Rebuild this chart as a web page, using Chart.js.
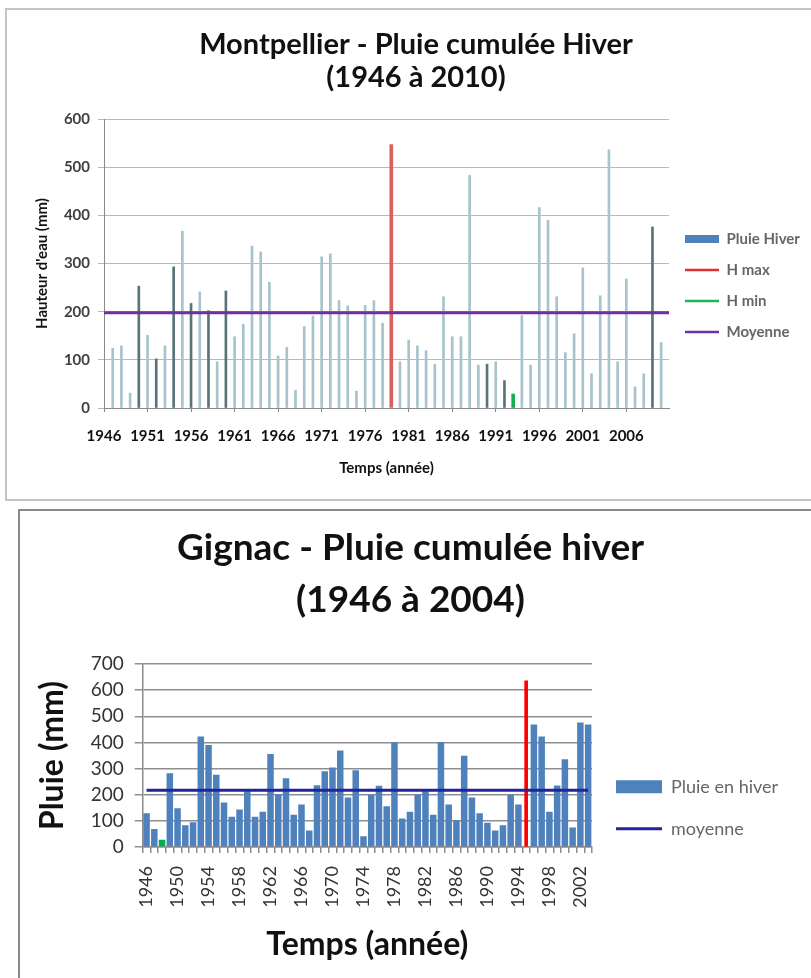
<!DOCTYPE html>
<html lang="fr">
<head>
<meta charset="utf-8">
<title>Pluie cumulée hiver - Montpellier et Gignac</title>
<script src="https://cdn.jsdelivr.net/npm/chart.js@4.4.1/dist/chart.umd.min.js"></script>
<style>
  html, body { margin: 0; padding: 0; background: #fff; width: 811px; height: 978px; overflow: hidden; position: relative; }
  .frame { position: absolute; background: #fff; border-right: none !important; }
  #frameTop { left: 5px; top: 8px; right: -40px; height: 489px; border: 2px solid #c4c4c4; }
  #frameBottom { left: 18px; top: 509px; right: -40px; bottom: -40px; border: 2px solid #8a8a8a; }
  .plot { position: absolute; }
  #wrapTop { left: 28px; top: 0; width: 776px; height: 505px; }
  #wrapBottom { left: 37px; top: 509px; width: 747px; height: 469px; }
</style>
</head>
<body>
<div class="frame" id="frameTop"></div>
<div class="plot" id="wrapTop"><canvas id="montpellierChart"></canvas></div>
<div class="frame" id="frameBottom"></div>
<div class="plot" id="wrapBottom"><canvas id="gignacChart"></canvas></div>

<script>
// Montpellier, winter rain (mm), 1946 has no bar
const mYears = [1946, 1947, 1948, 1949, 1950, 1951, 1952, 1953, 1954, 1955,
  1956, 1957, 1958, 1959, 1960, 1961, 1962, 1963, 1964, 1965,
  1966, 1967, 1968, 1969, 1970, 1971, 1972, 1973, 1974, 1975,
  1976, 1977, 1978, 1979, 1980, 1981, 1982, 1983, 1984, 1985,
  1986, 1987, 1988, 1989, 1990, 1991, 1992, 1993, 1994, 1995,
  1996, 1997, 1998, 1999, 2000, 2001, 2002, 2003, 2004, 2005,
  2006, 2007, 2008, 2009, 2010];
const mRain = [null, 124, 129, 31, 253, 151, 102, 129, 293, 367,
  217, 241, 202, 96, 243, 148, 174, 336, 324, 261,
  108, 126, 37, 169, 191, 314, 320, 223, 212, 35,
  213, 223, 176, 547, 96, 141, 129, 119, 91, 231,
  148, 148, 483, 89, 91, 96, 57, 29, 192, 89,
  416, 390, 231, 115, 154, 291, 71, 233, 536, 96,
  268, 44, 71, 376, 136];
const mMaxYear = 1979;
const mMinYear = 1993;
const mMean = 198;
const mTickYears = [1946, 1951, 1956, 1961, 1966, 1971, 1976, 1981, 1986, 1991, 1996, 2001, 2006];

// Gignac, winter rain (mm)
const gYears = [1946, 1947, 1948, 1949, 1950, 1951, 1952, 1953, 1954, 1955,
  1956, 1957, 1958, 1959, 1960, 1961, 1962, 1963, 1964, 1965,
  1966, 1967, 1968, 1969, 1970, 1971, 1972, 1973, 1974, 1975,
  1976, 1977, 1978, 1979, 1980, 1981, 1982, 1983, 1984, 1985,
  1986, 1987, 1988, 1989, 1990, 1991, 1992, 1993, 1994, 1995,
  1996, 1997, 1998, 1999, 2000, 2001, 2002, 2003];
const gRain = [129, 69, 28, 282, 148, 83, 95, 423, 390, 276,
  170, 116, 143, 213, 116, 135, 356, 202, 263, 123,
  163, 63, 236, 290, 304, 369, 189, 294, 41, 200,
  234, 156, 401, 109, 135, 200, 213, 123, 401, 163,
  102, 349, 189, 129, 93, 63, 83, 200, 163, 636,
  469, 423, 135, 235, 336, 75, 476, 469];
const gMaxYear = 1995;
const gMinYear = 1948;
const gMean = 217;
const gTickYears = [1946, 1950, 1954, 1958, 1962, 1966, 1970, 1974, 1978, 1982, 1986, 1990, 1994, 1998, 2002];

// some thin bars come out darker in the original export
const mDarkYears = [1950, 1952, 1954, 1956, 1958, 1960, 1990, 1992, 2009];

Chart.defaults.font.family = 'Lato, "DejaVu Sans", sans-serif';
Chart.defaults.animation = false;

const pick = (years, values, keep) => years.map((yr, i) => keep(yr) ? values[i] : null);

// ---------- Montpellier ----------
const mBars = mYears.map((yr, i) => ({ x: yr, y: (yr === mMaxYear || yr === mMinYear) ? null : mRain[i] }));
const mXMin = mYears[0];
const mXMax = mYears[mYears.length - 1] + 0.9;

new Chart(document.getElementById('montpellierChart'), {
  data: {
    datasets: [
      {
        type: 'line',
        label: 'Moyenne',
        data: [{ x: mXMin, y: mMean }, { x: mXMax, y: mMean }],
        borderColor: '#7030a0',
        borderWidth: 3,
        pointRadius: 0,
        order: 0,
      },
      {
        type: 'bar',
        label: 'Pluie Hiver',
        data: mBars,
        backgroundColor: (c) => (c.raw && mDarkYears.includes(c.raw.x)) ? '#587479' : '#a7c3cb',
        barThickness: 2,
        order: 1,
      },
      {
        type: 'bar',
        label: 'H max',
        data: [{ x: mMaxYear, y: mRain[mYears.indexOf(mMaxYear)] }],
        backgroundColor: '#d9605c',
        barThickness: 3,
        order: 1,
      },
      {
        type: 'bar',
        label: 'H min',
        data: [{ x: mMinYear, y: mRain[mYears.indexOf(mMinYear)] }],
        backgroundColor: '#16b04e',
        barThickness: 3,
        order: 1,
      },
    ],
  },
  options: {
    responsive: true,
    maintainAspectRatio: false,
    datasets: { bar: { grouped: false } },
    layout: { padding: 0 },
    plugins: {
      tooltip: { enabled: false },
      title: {
        display: true,
        text: ['Montpellier - Pluie cumulée Hiver', '(1946 à 2010)'],
        color: '#111',
        font: { size: 29, weight: 'bold', lineHeight: '33px' },
        padding: { top: 28.5, bottom: 24.5 },
      },
      legend: {
        position: 'right',
        align: 'start',
        maxWidth: 135,
        // empty title only used as a spacer to push the items down
        title: { display: true, text: '', font: { size: 10, lineHeight: 1 }, padding: { top: 205.5, bottom: 0 } },
        labels: {
          usePointStyle: true,
          pointStyleWidth: 34,
          boxHeight: 8,
          padding: 16,
          color: '#222',
          font: { size: 15, weight: 'bold' },
          generateLabels: () => [
            { text: 'Pluie Hiver', fillStyle: '#4f81bd', strokeStyle: '#4f81bd', lineWidth: 0, pointStyle: 'rect', datasetIndex: 1 },
            { text: 'H max', fillStyle: '#e0302e', strokeStyle: '#e0302e', lineWidth: 2.5, pointStyle: 'line', datasetIndex: 2 },
            { text: 'H min', fillStyle: '#1fb35a', strokeStyle: '#1fb35a', lineWidth: 2.5, pointStyle: 'line', datasetIndex: 3 },
            { text: 'Moyenne', fillStyle: '#7030a0', strokeStyle: '#7030a0', lineWidth: 2.5, pointStyle: 'line', datasetIndex: 0 },
          ],
        },
      },
    },
    scales: {
      x: {
        type: 'linear',
        offset: false,
        min: mXMin,
        max: mXMax,
        afterBuildTicks: (s) => { s.ticks = mTickYears.map((v) => ({ value: v })); },
        afterFit: (s) => { s.height = 97; },
        ticks: { callback: (v) => String(v), color: '#111', font: { size: 15, weight: 'bold' }, padding: 15, maxRotation: 0 },
        grid: { offset: false, drawOnChartArea: false, tickLength: 4, color: '#8a8a8a' },
        border: { color: '#8a8a8a' },
        title: { display: true, text: 'Temps (année)', color: '#111', font: { size: 15, weight: 'bold' }, padding: { top: 0, bottom: 28 } },
      },
      y: {
        min: 0,
        max: 600,
        afterFit: (s) => { s.width = 76; },
        ticks: { stepSize: 100, color: '#404040', font: { size: 15, weight: 'bold' }, padding: 8 },
        grid: { color: '#b9b9b9', tickLength: 6 },
        border: { color: '#8a8a8a' },
        title: { display: true, text: "Hauteur d'eau (mm)", color: '#111', font: { size: 15, weight: 'bold' }, padding: { top: 5, bottom: 0 } },
      },
    },
  },
});

// ---------- Gignac ----------
new Chart(document.getElementById('gignacChart'), {
  data: {
    labels: gYears,
    datasets: [
      {
        type: 'line',
        label: 'moyenne',
        data: gYears.map(() => gMean),
        borderColor: '#23239b',
        borderWidth: 3,
        pointRadius: 0,
        order: 0,
      },
      {
        type: 'bar',
        label: 'Pluie en hiver',
        data: pick(gYears, gRain, (yr) => yr !== gMaxYear && yr !== gMinYear),
        backgroundColor: '#4f81bd',
        categoryPercentage: 1,
        barPercentage: 0.84,
        order: 1,
      },
      {
        type: 'bar',
        label: 'H max',
        data: pick(gYears, gRain, (yr) => yr === gMaxYear),
        backgroundColor: '#ff0000',
        barThickness: 3,
        order: 1,
      },
      {
        type: 'bar',
        label: 'H min',
        data: pick(gYears, gRain, (yr) => yr === gMinYear),
        backgroundColor: '#00b050',
        categoryPercentage: 1,
        barPercentage: 0.84,
        order: 1,
      },
    ],
  },
  options: {
    responsive: true,
    maintainAspectRatio: false,
    datasets: { bar: { grouped: false } },
    layout: { padding: 0 },
    plugins: {
      tooltip: { enabled: false },
      title: {
        display: true,
        text: ['Gignac - Pluie cumulée hiver', '(1946 à 2004)'],
        color: '#111',
        font: { size: 37, weight: 'bold', lineHeight: '52px' },
        padding: { top: 13, bottom: 38 },
      },
      legend: {
        position: 'right',
        align: 'start',
        maxWidth: 192,
        title: { display: true, text: '', font: { size: 10, lineHeight: 1 }, padding: { top: 234.7, bottom: 0 } },
        labels: {
          usePointStyle: true,
          pointStyleWidth: 46,
          boxHeight: 13,
          padding: 24,
          color: '#111',
          font: { size: 18 },
          generateLabels: () => [
            { text: 'Pluie en hiver', fillStyle: '#4f81bd', strokeStyle: '#4f81bd', lineWidth: 0, pointStyle: 'rect', datasetIndex: 1 },
            { text: 'moyenne', fillStyle: '#23239b', strokeStyle: '#23239b', lineWidth: 3, pointStyle: 'line', datasetIndex: 0 },
          ],
        },
      },
    },
    scales: {
      x: {
        afterFit: (s) => { s.height = 131; },
        ticks: {
          autoSkip: false,
          minRotation: 90,
          maxRotation: 90,
          color: '#333',
          font: { size: 18 },
          padding: 13,
          callback: function (v) {
            const yr = Number(this.getLabelForValue(v));
            return gTickYears.includes(yr) ? String(yr) : '';
          },
        },
        grid: { drawOnChartArea: false, tickLength: 6, color: '#8a8a8a', lineWidth: 1.5 },
        border: { color: '#8a8a8a', width: 1.5 },
        title: { display: true, text: 'Temps (année)', color: '#111', font: { size: 32, weight: 'bold' }, padding: { top: 0, bottom: 13.8 } },
      },
      y: {
        min: 0,
        max: 700,
        afterFit: (s) => { s.width = 105.7; },
        ticks: { stepSize: 100, color: '#333', font: { size: 19 }, padding: 11 },
        grid: { color: '#8f8f8f', lineWidth: 1.5, tickLength: 8 },
        border: { color: '#8a8a8a', width: 1.5 },
        title: { display: true, text: 'Pluie (mm)', color: '#111', font: { size: 32, weight: 'bold', lineHeight: 1 }, padding: { top: 0, bottom: 0 } },
      },
    },
  },
});
</script>
</body>
</html>
